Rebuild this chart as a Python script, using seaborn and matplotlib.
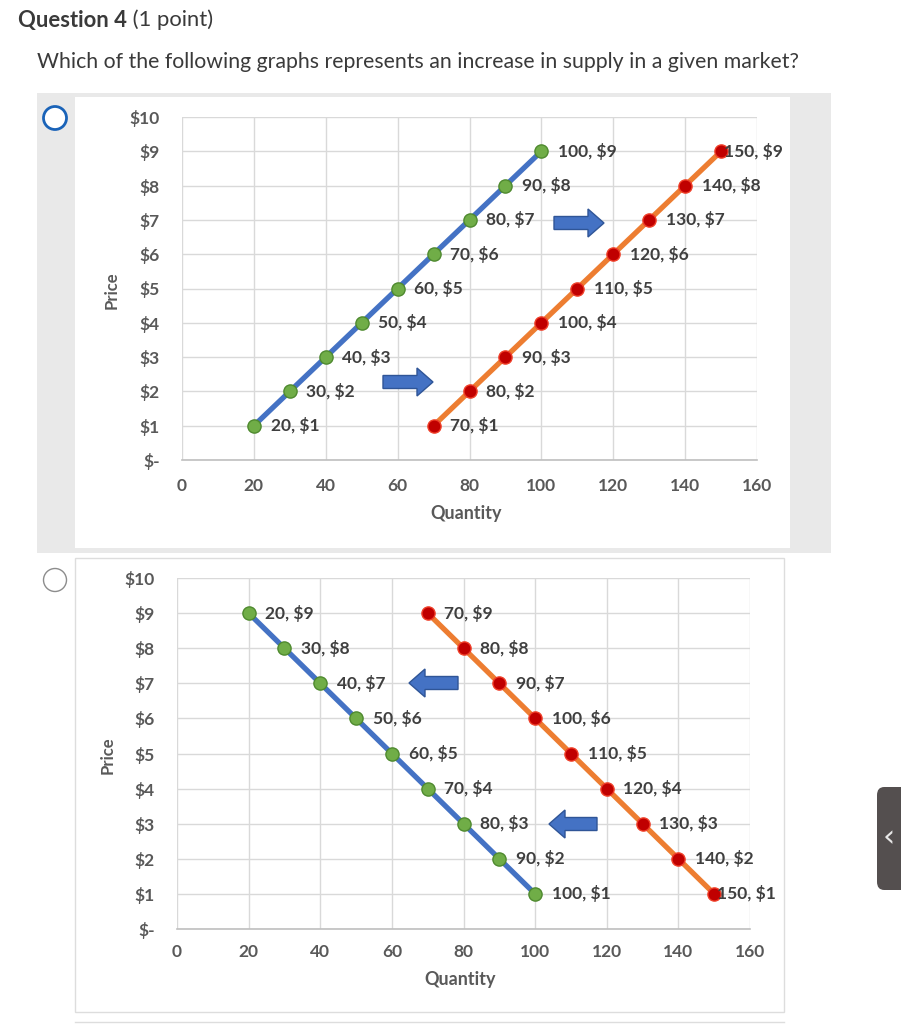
import matplotlib
matplotlib.use("Agg")
import matplotlib.pyplot as plt
import seaborn as sns
import pandas as pd
from matplotlib.patches import Rectangle, Ellipse, Polygon, FancyBboxPatch

# ---------------- data ----------------
price_ticks = [0, 1, 2, 3, 4, 5, 6, 7, 8, 9, 10]
price_labels = ["$-", "$1", "$2", "$3", "$4", "$5", "$6", "$7", "$8", "$9", "$10"]
qty_ticks = [0, 20, 40, 60, 80, 100, 120, 140, 160]

# Graph 1 (upward sloping supply, shift right)
g1_s1_qty = [20, 30, 40, 50, 60, 70, 80, 90, 100]
g1_s1_price = [1, 2, 3, 4, 5, 6, 7, 8, 9]
g1_s2_qty = [70, 80, 90, 100, 110, 120, 130, 140, 150]
g1_s2_price = [1, 2, 3, 4, 5, 6, 7, 8, 9]

# Graph 2 (downward sloping, shift left)
g2_s1_qty = [20, 30, 40, 50, 60, 70, 80, 90, 100]
g2_s1_price = [9, 8, 7, 6, 5, 4, 3, 2, 1]
g2_s2_qty = [70, 80, 90, 100, 110, 120, 130, 140, 150]
g2_s2_price = [9, 8, 7, 6, 5, 4, 3, 2, 1]

title_bold = "Question 4"
title_rest = " (1 point)"
question = "Which of the following graphs represents an increase in supply in a given market?"

# ---------------- figure ----------------
W, H = 901, 1024
fig = plt.figure(figsize=(W / 100, H / 100), dpi=100)
fig.patch.set_facecolor("white")
FONT = "Lato"
plt.rcParams["font.family"] = [FONT, "DejaVu Sans"]

def fx(x):
    return x / W

def fy(y):
    return 1 - y / H

def rect_px(x0, y0, x1, y1, **kw):
    fig.patches.append(Rectangle((fx(x0), fy(y1)), fx(x1) - fx(x0), fy(y0) - fy(y1),
                                 transform=fig.transFigure, **kw))

# background panels
rect_px(37, 93, 831, 553, facecolor="#e9e9e9", edgecolor="none", zorder=-3)
rect_px(75, 97, 790, 548, facecolor="white", edgecolor="none", zorder=-2)
rect_px(75, 558, 784, 1012, facecolor="white", edgecolor="#dddddd", linewidth=1, zorder=-2)
fig.lines.append(plt.Line2D([fx(75), fx(784)], [fy(1022), fy(1022)], transform=fig.transFigure,
                            color="#dddddd", linewidth=1, zorder=-2))

# radio buttons
for (cx, cy, col, lw) in [(55, 118, "#1a63b8", 2.0), (55, 580, "#8c8c8c", 1.0)]:
    fig.patches.append(Ellipse((fx(cx), fy(cy)), 23 / W, 23 / H, transform=fig.transFigure,
                               facecolor="white", edgecolor=col, linewidth=lw, zorder=2))

# title texts
t = fig.text(fx(18), fy(20), title_bold, fontsize=15.8, fontweight="bold", color="#3a3a3a",
             ha="left", va="center", family=FONT)
fig.canvas.draw()
bb = t.get_window_extent()
fig.text(bb.x1 / W, fy(20), title_rest, fontsize=15.8, color="#3a3a3a", ha="left", va="center", family=FONT)
fig.text(fx(37), fy(62), question, fontsize=15.3, color="#3a3a3a", ha="left", va="center", family=FONT)

# right-side tab
fig.patches.append(FancyBboxPatch((fx(877), fy(890)), fx(40), fy(787) - fy(890),
                                  boxstyle="round,pad=0,rounding_size=0.008",
                                  transform=fig.transFigure, facecolor="#544f4f",
                                  edgecolor="none", zorder=3))
fig.text(fx(889), fy(838), "\u2039", fontsize=22, color="#e8e8e8", ha="center", va="center",
         family="DejaVu Sans", zorder=4)

BLUE = "#4472C4"
ORANGE = "#ED7D31"
GREEN = "#70AD47"
GREEN_E = "#4f8a2f"
RED = "#C00000"
RED_E = "#f0402a"
TXT = "#3f3f3f"
TICK = "#595959"


def draw_chart(rect_px_box, series, arrows, xlabel_y, price_pos, xpad):
    x0, y0, x1, y1 = rect_px_box
    ax = fig.add_axes([fx(x0), fy(y1), fx(x1) - fx(x0), fy(y0) - fy(y1)])
    ax.set_facecolor("none")
    for (q, p, lc, mf, me) in series:
        df = pd.DataFrame({"Quantity": q, "Price": p})
        sns.lineplot(data=df, x="Quantity", y="Price", ax=ax, sort=False, color=lc,
                     linewidth=3.8, marker="o", markersize=9.5, markerfacecolor=mf,
                     markeredgecolor=me, markeredgewidth=1.0, zorder=3, clip_on=False)
        for qq, pp in zip(q, p):
            off = 2 if qq == 150 else 12
            ax.annotate(f"{qq}, ${pp}", (qq, pp), xytext=(off, 0), textcoords="offset points",
                        ha="left", va="center", fontsize=12.5, fontweight="bold", color=TXT,
                        family=FONT, zorder=5)
    ax.set_xlim(0, 160)
    ax.set_ylim(0, 10)
    ax.set_xticks(qty_ticks)
    ax.set_yticks(price_ticks)
    ax.set_yticklabels(price_labels)
    ax.grid(True, color="#d9d9d9", linewidth=1)
    ax.set_axisbelow(True)
    for s in ["top", "right", "left"]:
        ax.spines[s].set_visible(False)
    ax.spines["bottom"].set_color("#bfbfbf")
    ax.spines["bottom"].set_linewidth(1.2)
    ax.tick_params(length=0, labelsize=12.5, colors=TICK)
    ax.tick_params(axis="y", pad=16)
    ax.tick_params(axis="x", pad=xpad)
    for lab in ax.get_xticklabels() + ax.get_yticklabels():
        lab.set_fontweight("bold")
        lab.set_family(FONT)
    ax.set_xlabel("")
    ax.set_ylabel("")
    fig.text(fx((x0 + x1) / 2 - 3), fy(xlabel_y), "Quantity", fontsize=13, fontweight="bold",
             color=TICK, ha="center", va="center", family=FONT)
    fig.text(fx(price_pos[0]), fy(price_pos[1]), "Price", fontsize=12, fontweight="bold",
             color=TICK, ha="center", va="center", rotation=90, family=FONT)
    # block arrows (pixel coords)
    for (tail, tip, yc) in arrows:
        d = 1 if tip > tail else -1
        neck = tip - d * 16
        bh, hh = 6.5, 14
        pts = [(tail, yc - bh), (neck, yc - bh), (neck, yc - hh), (tip, yc),
               (neck, yc + hh), (neck, yc + bh), (tail, yc + bh)]
        fig.patches.append(Polygon([(fx(a), fy(b)) for a, b in pts], closed=True,
                                   transform=fig.transFigure, facecolor="#4472C4",
                                   edgecolor="#2f5597", linewidth=1, zorder=6))
    return ax


draw_chart((182, 117, 757, 460),
           [(g1_s1_qty, g1_s1_price, BLUE, GREEN, GREEN_E),
            (g1_s2_qty, g1_s2_price, ORANGE, RED, RED_E)],
           [(383, 433, 382), (554, 604, 223)],
           514, (112, 290), 13)

draw_chart((177, 578, 750, 929),
           [(g2_s1_qty, g2_s1_price, BLUE, GREEN, GREEN_E),
            (g2_s2_qty, g2_s2_price, ORANGE, RED, RED_E)],
           [(458, 409, 683), (597, 549, 824)],
           980, (108, 755), 11)

fig.savefig("out.png", dpi=100)
